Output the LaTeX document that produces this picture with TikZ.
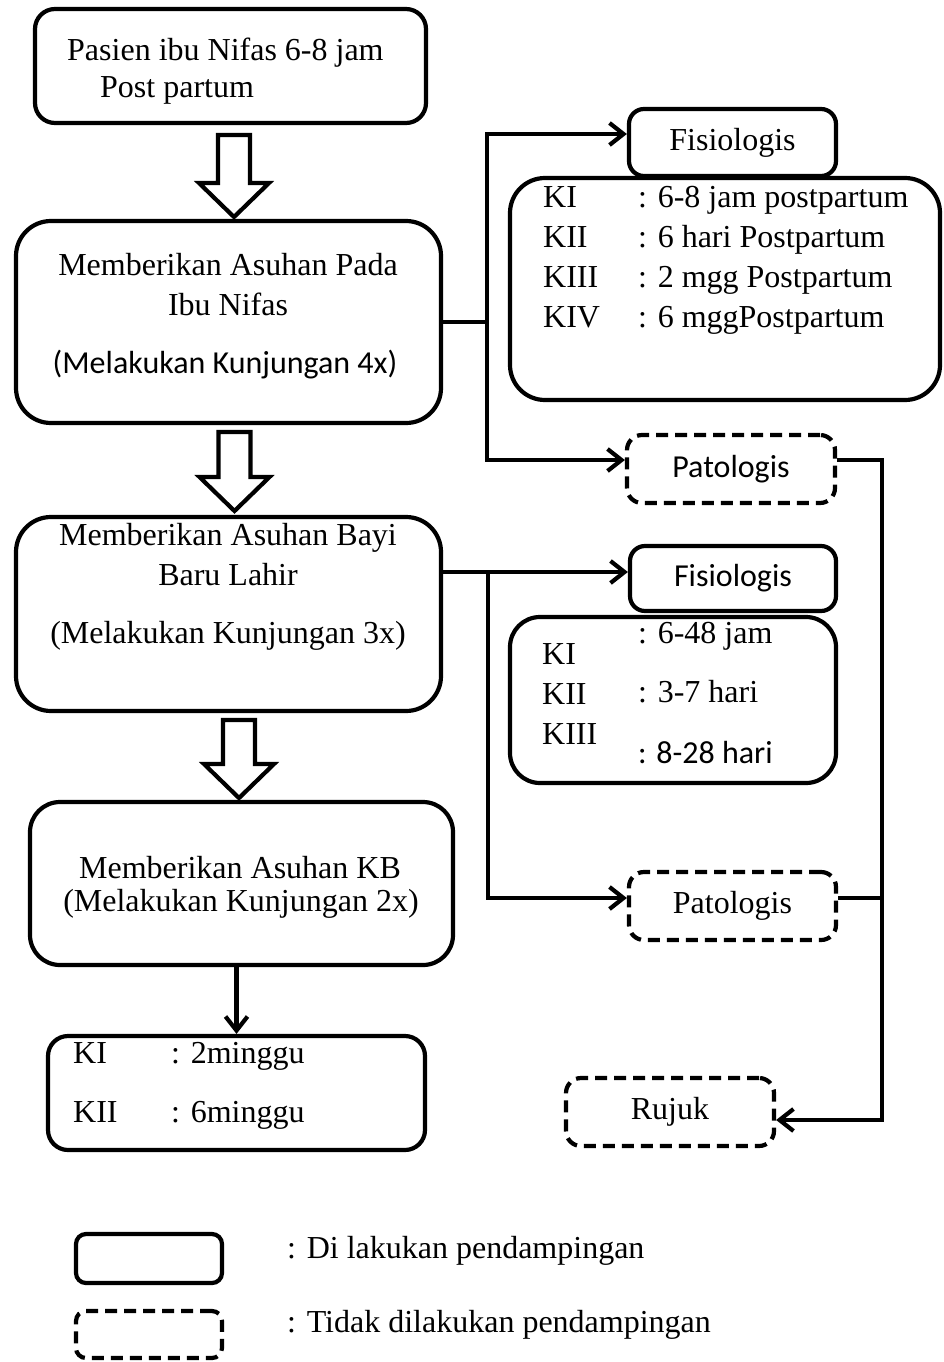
\documentclass[tikz,border=0pt]{standalone}
\usepackage{fontspec}
\setmainfont{Liberation Serif}
\newfontfamily\calibri{Carlito}
\usepackage{tikz}
\usetikzlibrary{arrows.meta,calc}

% hollow block arrow: x, top, tip
\newcommand{\bigarrow}[3]{%
  \draw[hollow] (#1-16,#2) -- (#1-16,#3-34) -- (#1-35,#3-34) -- (#1,#3)
    -- (#1+35,#3-34) -- (#1+16,#3-34) -- (#1+16,#2) -- cycle;}

\begin{document}
\begin{tikzpicture}[
  x=1pt, y=-1pt,
  font=\fontsize{32}{37}\selectfont,
  box/.style={draw, line width=4.2pt, rounded corners=#1, inner sep=0pt},
  box/.default=30pt,
  dbox/.style={box=#1, dash pattern=on 12pt off 7pt},
  dbox/.default=15pt,
  txt/.style={anchor=base, inner sep=0pt},
  txtl/.style={anchor=base west, inner sep=0pt},
  conn/.style={line width=4.2pt},
  arr/.style={conn, -{Straight Barb[length=14pt,width=22pt]}},
  hollow/.style={line width=4.2pt, fill=white},
]
\useasboundingbox (0,0) rectangle (944,1362);

% main column
\node[box=20pt, minimum width=391pt, minimum height=114pt] (pasien) at (230.5,66) {};
\node[txtl] (pasien1) at (67,61) {Pasien ibu Nifas 6-8 jam};
\node[txtl] (pasien2) at (100,98) {Post partum};

\node[box=35pt, minimum width=425pt, minimum height=202pt] (nifas) at (228.5,322) {};
\node[txt] (nifas1) at (228,275) {Memberikan Asuhan Pada};
\node[txt] (nifas2) at (228,315) {Ibu Nifas};
\node[txt] (nifas3) at (225,373) {\calibri (Melakukan Kunjungan 4x)};

\node[box=35pt, minimum width=425pt, minimum height=194pt] (bayi) at (228.5,614) {};
\node[txt] (bayi1) at (228,545) {Memberikan Asuhan Bayi};
\node[txt] (bayi2) at (228,585) {Baru Lahir};
\node[txt] (bayi3) at (228,643) {(Melakukan Kunjungan 3x)};

\node[box, minimum width=423pt, minimum height=163pt] (kb) at (241.5,883.5) {};
\node[txt] (kb1) at (240,878) {Memberikan Asuhan KB};
\node[txt] (kb2) at (241,911) {(Melakukan Kunjungan 2x)};

\node[box=20pt, minimum width=377pt, minimum height=114pt] (kbjadwal) at (236.5,1093) {};
\node[txtl] (kbk1) at (73,1063) {KI};
\node[txtl] (kbw1) at (171,1063) {: 2minggu};
\node[txtl] (kbk2) at (73,1122) {KII};
\node[txtl] (kbw2) at (171,1122) {: 6minggu};

\bigarrow{234}{135}{217}
\bigarrow{234.5}{432}{511}
\bigarrow{239}{720}{798}

% nifas branch
\node[box=35pt, minimum width=430pt, minimum height=222pt] (jad1) at (725,289) {};
\node[box=15pt, fill=white, minimum width=207pt, minimum height=67pt] (fis1) at (732.5,142.5) {Fisiologis};
\node[txtl] (j1k1) at (543,207) {KI};
\node[txtl] (j1k2) at (543,247) {KII};
\node[txtl] (j1k3) at (543,287) {KIII};
\node[txtl] (j1k4) at (543,327) {KIV};
\node[txtl] (j1w1) at (638,207) {: 6-8 jam postpartum};
\node[txtl] (j1w2) at (638,247) {: 6 hari Postpartum};
\node[txtl] (j1w3) at (638,287) {: 2 mgg Postpartum};
\node[txtl] (j1w4) at (638,327) {: 6 mggPostpartum};
\node[dbox, minimum width=208pt, minimum height=68pt, font=\fontsize{32}{37}\calibri] (pat1) at (731,469) {Patologis};

% bayi branch
\node[box, minimum width=326pt, minimum height=166pt] (jad2) at (673,700) {};
\node[box=15pt, fill=white, minimum width=206pt, minimum height=65pt, font=\fontsize{32}{37}\calibri] (fis2) at (733,578.5) {Fisiologis};
\node[txtl] (j2k1) at (542,664) {KI};
\node[txtl] (j2k2) at (542,704) {KII};
\node[txtl] (j2k3) at (542,744) {KIII};
\node[txtl] (j2w1) at (638,643) {: 6-48 jam};
\node[txtl] (j2w2) at (638,702) {: 3-7 hari};
\node[txtl] (j2w3) at (638,763) {\calibri : 8-28 hari};
\node[dbox, minimum width=207pt, minimum height=68pt] (pat2) at (732.5,906) {Patologis};

\node[dbox, minimum width=208pt, minimum height=68pt] (rujuk) at (670,1112) {Rujuk};

% connectors
\coordinate (bus1) at (487,0);
\coordinate (bus2) at (488,0);
\coordinate (bus3) at (882,0);
\draw[conn] (nifas.east) -- (nifas.east -| bus1);
\draw[arr] (nifas.east -| bus1) |- ([yshift=8.5pt]fis1.west);
\draw[arr] (nifas.east -| bus1) |- ([yshift=9pt]pat1.west);
\draw[arr] ([yshift=42pt]bayi.east) -- ([yshift=42pt]bayi.east -| fis2.west);
\draw[arr] ([yshift=42pt]bayi.east -| bus2) |- ([yshift=8pt]pat2.west);
\draw[arr] ([yshift=9pt]pat1.east) -| ([yshift=-8pt]rujuk.east -| bus3) -- ([yshift=-8pt]rujuk.east);
\draw[conn] ([yshift=8pt]pat2.east) -- ([yshift=8pt]pat2.east -| bus3);
\draw[arr] (kb.south -| kbjadwal.north) -- (kbjadwal.north);

% legend
\node[box=10pt, minimum width=146pt, minimum height=49pt] (lg1) at (149,1258.5) {};
\node[dbox=10pt, minimum width=146pt, minimum height=47pt] (lg2) at (149,1334.5) {};
\node[txtl] (lgt1) at (287,1258) {: Di lakukan pendampingan};
\node[txtl] (lgt2) at (287,1332) {: Tidak dilakukan pendampingan};
\end{tikzpicture}
\end{document}
